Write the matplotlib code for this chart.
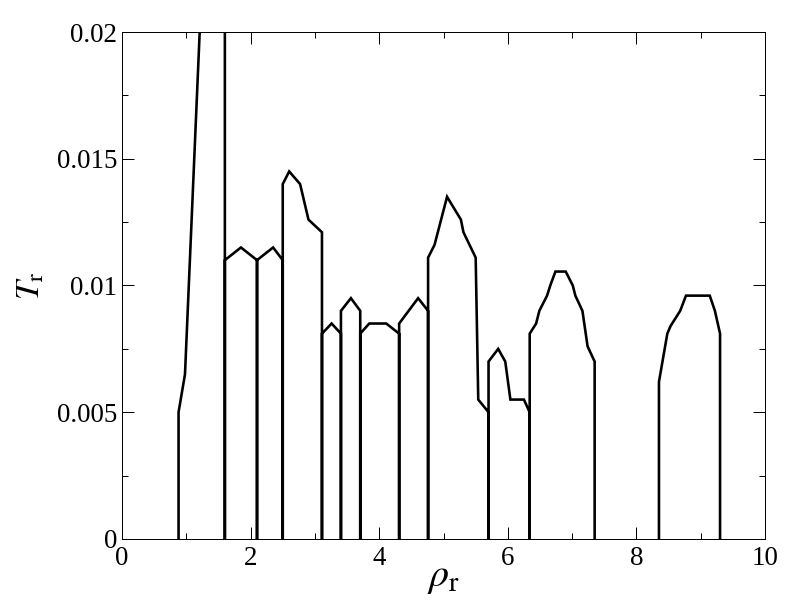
import numpy as np
import matplotlib
matplotlib.use("Agg")
import matplotlib.pyplot as plt
from matplotlib.ticker import MultipleLocator

# ---------------------------------------------------
# Data
# ---------------------------------------------------

rho_r = [
    0.88, 0.88, 0.98, 1.31, 1.60,
    1.60, 1.60, 1.85, 2.10,
    2.10, 2.10, 2.35, 2.50,
    2.50, 2.50, 2.60, 2.77, 2.90, 3.11,
    3.11, 3.11, 3.26, 3.405,
    3.405, 3.405, 3.56, 3.705,
    3.705, 3.705, 3.845, 4.11, 4.31,
    4.31, 4.31, 4.605, 4.76,
    4.76, 4.76, 4.86, 5.055, 5.27, 5.31, 5.50, 5.52, 5.54, 5.70,
    5.70, 5.70, 5.85, 5.96, 6.04, 6.25, 6.34,
    6.34, 6.34, 6.44, 6.49, 6.61, 6.66, 6.74, 6.90, 7.01, 7.05, 7.16, 7.24, 7.35,
    7.35,
    np.nan,
    8.35, 8.35, 8.48, 8.53, 8.68, 8.77, 9.14, 9.22, 9.30,
    9.30,
]

T_r = [
    0.0, 0.0050, 0.0065, 0.0260, 0.0260,
    0.0, 0.0110, 0.0115, 0.0110,
    0.0, 0.0110, 0.0115, 0.0110,
    0.0, 0.0140, 0.0145, 0.0140, 0.0126, 0.0121,
    0.0, 0.0081, 0.0085, 0.0081,
    0.0, 0.0090, 0.0095, 0.0090,
    0.0, 0.0081, 0.0085, 0.0085, 0.0081,
    0.0, 0.0085, 0.0095, 0.0090,
    0.0, 0.0111, 0.0116, 0.0135, 0.0126, 0.0121, 0.0111, 0.0083, 0.0055, 0.0050,
    0.0, 0.0070, 0.0075, 0.0070, 0.0055, 0.0055, 0.0050,
    0.0, 0.0081, 0.0085, 0.0090, 0.0096, 0.0100, 0.01055, 0.01055, 0.0100, 0.0096, 0.0090, 0.0076, 0.0070,
    0.0,
    np.nan,
    0.0, 0.0062, 0.0081, 0.0084, 0.0090, 0.0096, 0.0096, 0.0090, 0.0081,
    0.0,
]

x_ticks = [0, 2, 4, 6, 8, 10]
x_tick_labels = ["0", "2", "4", "6", "8", "10"]
y_ticks = [0, 0.005, 0.01, 0.015, 0.02]
y_tick_labels = ["0", "0.005", "0.01", "0.015", "0.02"]

# ---------------------------------------------------
# Style
# ---------------------------------------------------

plt.rcParams["font.family"] = ["Liberation Serif", "DejaVu Serif"]
plt.rcParams["mathtext.fontset"] = "stix"

fig = plt.figure(figsize=(11, 8.5), dpi=72)
ax = fig.add_axes([0.154, 0.1193, 0.812, 0.8284])

ax.plot(
    rho_r,
    T_r,
    color="black",
    linewidth=2.6,
    solid_joinstyle="miter",
)

ax.set_xlim(0, 10)
ax.set_ylim(0, 0.02)

ax.set_xticks(x_ticks)
ax.set_xticklabels(x_tick_labels)
ax.set_yticks(y_ticks)
ax.set_yticklabels(y_tick_labels)

ax.xaxis.set_minor_locator(MultipleLocator(1))
ax.yaxis.set_minor_locator(MultipleLocator(0.0025))

ax.tick_params(
    which="both",
    direction="in",
    top=True,
    right=True,
    width=1,
    labelsize=27,
)
ax.tick_params(axis="x", pad=7)
ax.tick_params(axis="y", pad=5)
ax.tick_params(which="major", length=12)
ax.tick_params(which="minor", length=6)

for spine in ax.spines.values():
    spine.set_linewidth(1)

# ---------------------------------------------------
# Axis labels
# ---------------------------------------------------

ax.set_xlabel(r"$\rho_{\rm r}$", fontsize=40)
ax.xaxis.set_label_coords(0.5, -0.04)

ax.set_ylabel(r"$T_{\rm r}$", fontsize=34)
ax.yaxis.set_label_coords(-0.117, 0.5)

plt.savefig("out.png", dpi=72)
plt.close()
